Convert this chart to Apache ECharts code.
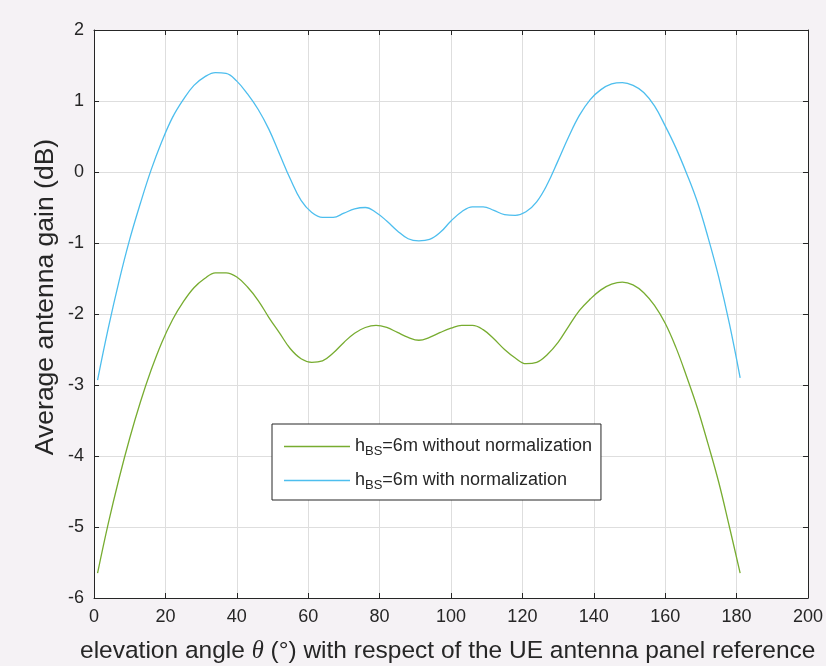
<!DOCTYPE html>
<html>
<head>
<meta charset="utf-8">
<script src="https://cdn.jsdelivr.net/npm/echarts@6/dist/echarts.min.js"></script>
<style>
html,body{margin:0;padding:0;background:#f5f2f5;}
#c{width:826px;height:666px;}
</style>
</head>
<body>
<div id="c"></div>
<script>
// elevation angle (deg)
var theta = [1,4,7,10,13,16,19,22,25,28,31,34,37,40,43,46,49,52,55,58,61,64,67,70,73,76,79,82,85,88,91,94,97,100,103,106,109,112,115,118,121,124,127,130,133,136,139,142,145,148,151,154,157,160,163,166,169,172,175,178,181];
// h_BS = 6 m with normalization
var gainBlue = [-2.93,-2.20,-1.54,-0.95,-0.44,0.03,0.43,0.77,1.02,1.22,1.34,1.40,1.39,1.28,1.10,0.88,0.60,0.25,-0.10,-0.40,-0.57,-0.64,-0.64,-0.58,-0.52,-0.50,-0.57,-0.69,-0.83,-0.94,-0.97,-0.95,-0.85,-0.69,-0.56,-0.49,-0.49,-0.54,-0.60,-0.61,-0.56,-0.42,-0.17,0.16,0.50,0.80,1.02,1.16,1.24,1.26,1.22,1.12,0.93,0.65,0.34,-0.02,-0.42,-0.92,-1.48,-2.14,-2.90];
// h_BS = 6 m without normalization
var gainGreen = [-5.65,-4.95,-4.32,-3.75,-3.24,-2.79,-2.40,-2.08,-1.83,-1.63,-1.50,-1.42,-1.42,-1.48,-1.62,-1.81,-2.05,-2.27,-2.49,-2.63,-2.68,-2.66,-2.55,-2.40,-2.27,-2.19,-2.16,-2.19,-2.26,-2.33,-2.37,-2.33,-2.26,-2.20,-2.16,-2.16,-2.22,-2.35,-2.50,-2.62,-2.70,-2.68,-2.57,-2.40,-2.17,-1.95,-1.79,-1.66,-1.58,-1.55,-1.59,-1.70,-1.88,-2.13,-2.47,-2.88,-3.32,-3.83,-4.37,-5.00,-5.65];
var seriesNames = ['without normalization','with normalization'];
var yTitle = 'Average antenna gain (dB)';

function pairs(xs, ys){ return xs.map(function(x,i){ return [x, ys[i]]; }); }

var chart = echarts.init(document.getElementById('c'), null, {renderer:'canvas'});
var axisCol = '#262626';
var fontFam = 'Liberation Sans, Arial, sans-serif';
var baseAxis = {
  type:'value', axisLine:{show:true, onZero:false, lineStyle:{color:axisCol, width:1}},
  axisTick:{show:true, inside:true, length:5, lineStyle:{color:axisCol}},
  splitLine:{show:false}
};
chart.setOption({
  backgroundColor:'#f5f2f5',
  animation:false,
  grid:{left:94, right:18, top:30, bottom:68, show:true, backgroundColor:'#ffffff', borderWidth:0},
  xAxis:[
    Object.assign({}, baseAxis, {position:'bottom', min:0, max:200, interval:20,
      axisLabel:{color:axisCol, fontSize:18, fontFamily:fontFam, margin:10},
      splitLine:{show:true, lineStyle:{color:'#dedede', width:1}}}),
    Object.assign({}, baseAxis, {position:'top', min:0, max:200, interval:20, axisLabel:{show:false}})
  ],
  yAxis:[
    Object.assign({}, baseAxis, {position:'left', min:-6, max:2, interval:1,
      axisLabel:{color:axisCol, fontSize:18, fontFamily:fontFam, margin:10},
      splitLine:{show:true, lineStyle:{color:'#dedede', width:1}}}),
    Object.assign({}, baseAxis, {position:'right', min:-6, max:2, interval:1, axisLabel:{show:false}})
  ],
  legend:{
    orient:'vertical', left:272, top:424,
    backgroundColor:'#ffffff', borderColor:axisCol, borderWidth:1,
    padding:[11, 9, 8, 12], itemGap:11, itemWidth:66, itemHeight:1.6,
    icon:'rect',
    selectedMode:false,
    data:seriesNames,
    textStyle:{color:axisCol, fontFamily:fontFam, fontSize:18,
      rich:{
        h:{fontSize:18, fontFamily:fontFam, color:axisCol, lineHeight:24},
        s:{fontSize:13, fontFamily:fontFam, color:axisCol, lineHeight:14, padding:[10,0,0,0]},
        t:{fontSize:18, fontFamily:fontFam, color:axisCol, lineHeight:24}
      }},
    formatter:function(n){ return '{h|h}{s|BS}{t|=6m ' + n + '}'; }
  },
  series:[
    {name:seriesNames[0], type:'line', data:pairs(theta, gainGreen), symbol:'none', smooth:0.4,
      lineStyle:{color:'#77ac30', width:1.3}, itemStyle:{color:'#77ac30'}},
    {name:seriesNames[1], type:'line', data:pairs(theta, gainBlue), symbol:'none', smooth:0.4,
      lineStyle:{color:'#4dbeee', width:1.3}, itemStyle:{color:'#4dbeee'}}
  ],
  graphic:[
    {type:'text', left:80, top:639,
      style:{text:'{a|elevation angle }{i|θ}{a| (°) with respect of the UE antenna panel reference}',
        rich:{a:{fontSize:24.5, fontFamily:fontFam, fill:axisCol}, i:{fontSize:24.5, fontFamily:'Liberation Serif, serif', fontStyle:'italic', fill:axisCol}}}},
    {type:'text', x:46, y:297, rotation:Math.PI/2,
      style:{text:yTitle, fontSize:26.5, fontFamily:fontFam, fill:axisCol, align:'center', verticalAlign:'middle'}}
  ]
});
</script>
</body>
</html>
